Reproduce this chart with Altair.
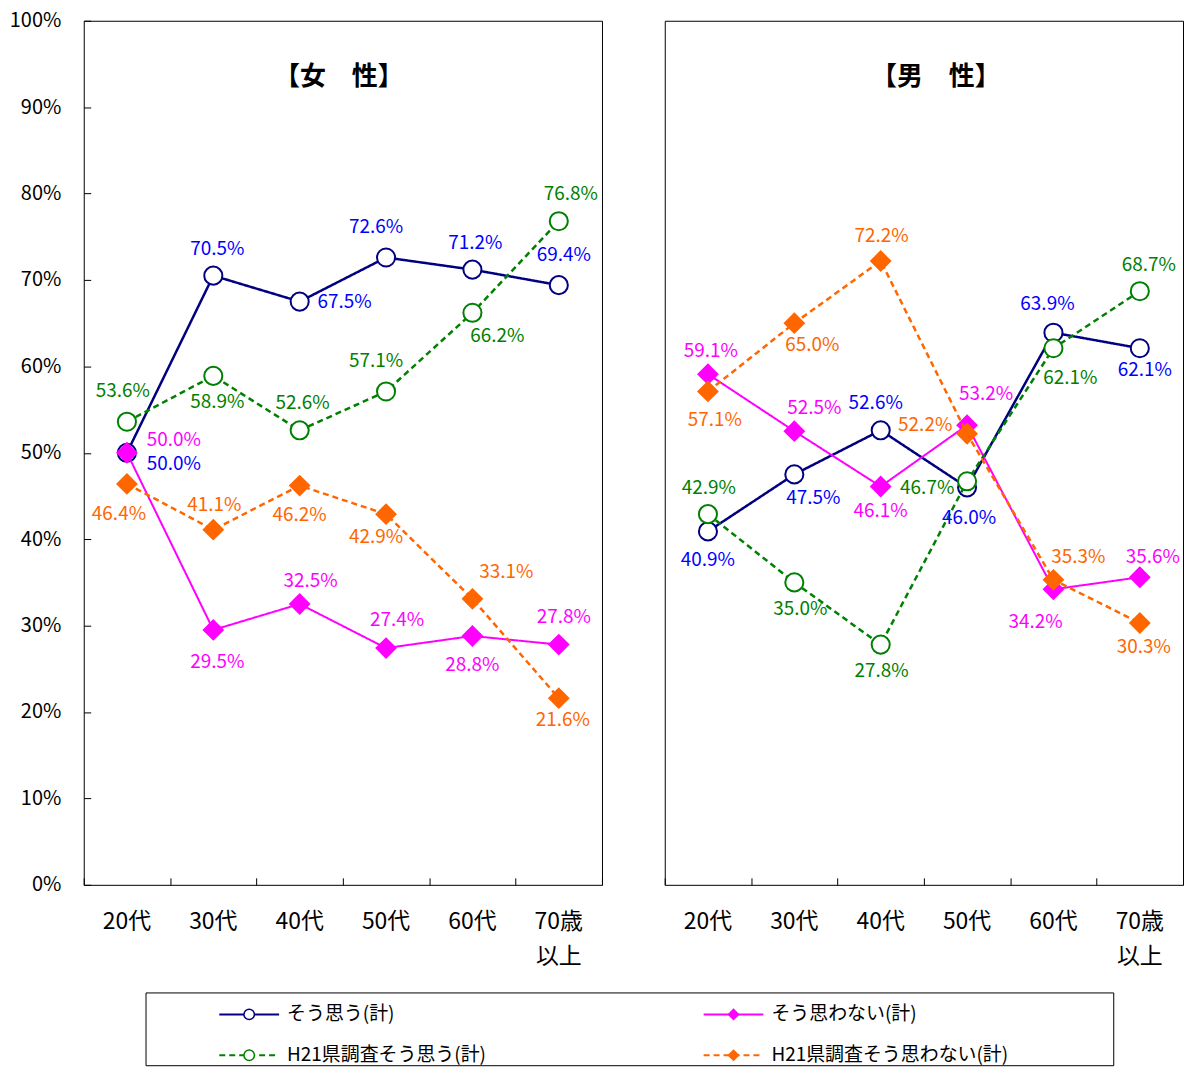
import altair as alt
import pandas as pd

FONT = "Noto Sans CJK JP"

# ---------------- data ----------------
categories = ["20代", "30代", "40代", "50代", "60代", "70歳以上"]
series_names = ["そう思う(計)", "そう思わない(計)",
                "H21県調査そう思う(計)", "H21県調査そう思わない(計)"]
panel_titles = ["【女　性】", "【男　性】"]

female_agree = [50.0, 70.5, 67.5, 72.6, 71.2, 69.4]
female_disagree = [50.0, 29.5, 32.5, 27.4, 28.8, 27.8]
female_h21_agree = [53.6, 58.9, 52.6, 57.1, 66.2, 76.8]
female_h21_disagree = [46.4, 41.1, 46.2, 42.9, 33.1, 21.6]

male_agree = [40.9, 47.5, 52.6, 46.0, 63.9, 62.1]
male_disagree = [59.1, 52.5, 46.1, 53.2, 34.2, 35.6]
male_h21_agree = [42.9, 35.0, 27.8, 46.7, 62.1, 68.7]
male_h21_disagree = [57.1, 65.0, 72.2, 52.2, 35.3, 30.3]

female_values = [female_agree, female_disagree, female_h21_agree, female_h21_disagree]
male_values = [male_agree, male_disagree, male_h21_agree, male_h21_disagree]

# ---------------- label placement (pixel offsets from each point) ----------------
female_label_offsets = [
    [(47, 11), (4, -27), (45, 0), (-10, -31), (3, -27), (5, -30)],
    [(47, -13), (4, 32), (11, -23), (11, -28), (0, 29), (5, -28)],
    [(-4, -31), (4, 26), (3, -27), (-10, -31), (25, 23), (12, -27)],
    [(-8, 30), (1, -25), (0, 29), (-10, 23), (34, -27), (4, 22)],
]
male_label_offsets = [
    [(0, 29), (19, 24), (-5, -27), (2, 31), (-6, -29), (5, 22)],
    [(3, -23), (20, -23), (0, 25), (19, -31), (-18, 33), (13, -20)],
    [(1, -26), (6, 27), (1, 27), (-40, 7), (17, 30), (9, -26)],
    [(7, 29), (18, 22), (1, -25), (-42, -9), (25, -23), (4, 24)],
]
title_dx = [-4, 12]

# ---------------- styles ----------------
line_colors = ["#000080", "#FF00FF", "#008000", "#FF6600"]
label_colors = ["#0000FF", "#FF00FF", "#008000", "#FF6600"]
dashes = [[1, 0], [1, 0], [6, 4], [6, 4]]
shapes = ["circle", "diamond", "circle", "diamond"]
open_marker = [True, False, True, False]
line_widths = [2.5, 2, 2.5, 2.5]

W, H = 520, 867
yticks = list(range(0, 101, 10))


def make_panel(title, tdx, values, offsets, show_y_labels):
    rows = []
    for si, (name, vals, offs) in enumerate(zip(series_names, values, offsets)):
        for ci, (cat, v, (dx, dy)) in enumerate(zip(categories, vals, offs)):
            rows.append(dict(series=name, order=si, cat=cat, value=v,
                             dx=dx, dy=dy, label=f"{v:.1f}%"))
    df = pd.DataFrame(rows)
    base = alt.Chart(df)

    x_scale = alt.Scale(type="band", domain=categories, paddingInner=0, paddingOuter=0)
    y_scale = alt.Scale(domain=[0, 100], nice=False)

    x_label_axis = alt.Axis(
        orient="bottom", title=None, ticks=False, tickSize=0, domain=False, grid=False,
        labelAngle=0, labelFontSize=23, labelPadding=26, labelLineHeight=35,
        labelColor="black", labelFont=FONT,
        labelExpr="datum.value == '70歳以上' ? ['70歳', '以上'] : datum.label")
    x_tick_axis = alt.Axis(
        orient="top", offset=-H, title=None, labels=False, domain=False, grid=False,
        ticks=True, tickSize=7, tickColor="black", tickBand="extent", tickWidth=1)
    y_label_axis = alt.Axis(
        orient="left", title=None, ticks=False, tickSize=0, domain=False, grid=False,
        values=yticks, labelExpr="datum.value + '%'", labelFontSize=20,
        labelPadding=23, labelColor="black", labelFont=FONT)
    if show_y_labels:
        y_tick_axis = alt.Axis(
            orient="right", offset=-W, title=None, labels=False, domain=False, grid=False,
            ticks=True, tickSize=7, tickColor="black", values=yticks, tickWidth=1)
    else:
        # one hidden label keeps this panel's top extent equal to the left panel's
        y_tick_axis = alt.Axis(
            orient="right", offset=-W, title=None, labels=True, labelOpacity=0,
            labelExpr="datum.value == 100 ? '100%' : ''",
            labelFontSize=20, labelFont=FONT, domain=False, grid=False,
            ticks=True, tickSize=7, tickColor="black", values=yticks, tickWidth=1)

    layers = []
    for si in range(len(series_names)):
        sub = base.transform_filter(alt.datum.order == si)
        first = si == 0
        line = sub.mark_line(color=line_colors[si], strokeWidth=line_widths[si],
                             strokeDash=dashes[si]).encode(
            x=alt.X("cat:N", scale=x_scale, sort=categories,
                    axis=x_label_axis if first else None),
            y=alt.Y("value:Q", scale=y_scale,
                    axis=(y_label_axis if show_y_labels else None) if first else None),
        )
        if open_marker[si]:
            pt = sub.mark_point(shape=shapes[si], filled=True, fill="white",
                                stroke=line_colors[si], strokeWidth=2, size=330, opacity=1)
        else:
            pt = sub.mark_point(shape=shapes[si], filled=True, color=line_colors[si],
                                size=480, opacity=1)
        pt = pt.encode(
            x=alt.X("cat:N", scale=x_scale, sort=categories,
                    axis=x_tick_axis if first else None),
            y=alt.Y("value:Q", scale=y_scale, axis=y_tick_axis if first else None),
        )
        layers += [line, pt]

    labels = base.mark_text(fontSize=19, font=FONT,
                            dx=alt.ExprRef(expr="datum.dx"),
                            dy=alt.ExprRef(expr="datum.dy")).encode(
        x=alt.X("cat:N", scale=x_scale, sort=categories, axis=None),
        y=alt.Y("value:Q", scale=y_scale, axis=None),
        text="label:N",
        color=alt.Color("series:N", scale=alt.Scale(domain=series_names, range=label_colors),
                        legend=None),
    )
    title_mark = alt.Chart(pd.DataFrame({"t": [title]})).mark_text(
        fontSize=26, font=FONT, fontWeight="bold", color="black", dx=tdx).encode(
        x=alt.value(W / 2), y=alt.value(56), text="t:N")
    layers += [labels, title_mark]
    return alt.layer(*layers).properties(width=W, height=H)


left = make_panel(panel_titles[0], title_dx[0], female_values, female_label_offsets, True)
right = make_panel(panel_titles[1], title_dx[1], male_values, male_label_offsets, False)

# ---------------- legend ----------------
leg_df = pd.DataFrame({"series": series_names, "order": [0, 1, 2, 3],
                       "col": [0, 1, 0, 1], "row": [0, 0, 1, 1]})
leg_base = alt.Chart(leg_df)
leg_x = alt.Scale(domain=[0, 1], range=[104, 590])
leg_y = alt.Scale(domain=[0, 1], range=[22, 63])
leg_layers = []
for si in range(4):
    sub = leg_base.transform_filter(alt.datum.order == si)
    rule = sub.mark_rule(color=line_colors[si], strokeWidth=2, strokeDash=dashes[si],
                         xOffset=-30, x2Offset=30).encode(
        x=alt.X("col:Q", scale=leg_x, axis=None),
        x2="col:Q",
        y=alt.Y("row:Q", scale=leg_y, axis=None),
    )
    if open_marker[si]:
        pt = sub.mark_point(shape=shapes[si], filled=True, fill="white",
                            stroke=line_colors[si], strokeWidth=1.5, size=110, opacity=1)
    else:
        pt = sub.mark_point(shape=shapes[si], filled=True, color=line_colors[si],
                            size=150, opacity=1)
    pt = pt.encode(x=alt.X("col:Q", scale=leg_x, axis=None),
                   y=alt.Y("row:Q", scale=leg_y, axis=None))
    leg_layers += [rule, pt]
leg_text = leg_base.mark_text(align="left", baseline="middle", dx=38, fontSize=19,
                              font=FONT, color="black").encode(
    x=alt.X("col:Q", scale=leg_x, axis=None),
    y=alt.Y("row:Q", scale=leg_y, axis=None),
    text="series:N")
leg_layers.append(leg_text)
legend = alt.layer(*leg_layers).properties(width=971, height=73)

spacer = alt.Chart(pd.DataFrame({"a": [0]})).mark_point(opacity=0).encode(
    x=alt.X("a:Q", axis=None), y=alt.Y("a:Q", axis=None)).properties(
    width=60, height=73, view=alt.ViewBackground(stroke="transparent"))

bottom = alt.hconcat(spacer, legend, spacing=0)
top = alt.hconcat(left, right, spacing=61)
chart = alt.vconcat(top, bottom, spacing=22).resolve_scale(
    x="independent", y="independent").properties(padding=0).configure_view(
    stroke="black", strokeWidth=1).configure_axis(grid=False)

chart.save("out.html", embed_options={"renderer": "svg", "actions": False})
